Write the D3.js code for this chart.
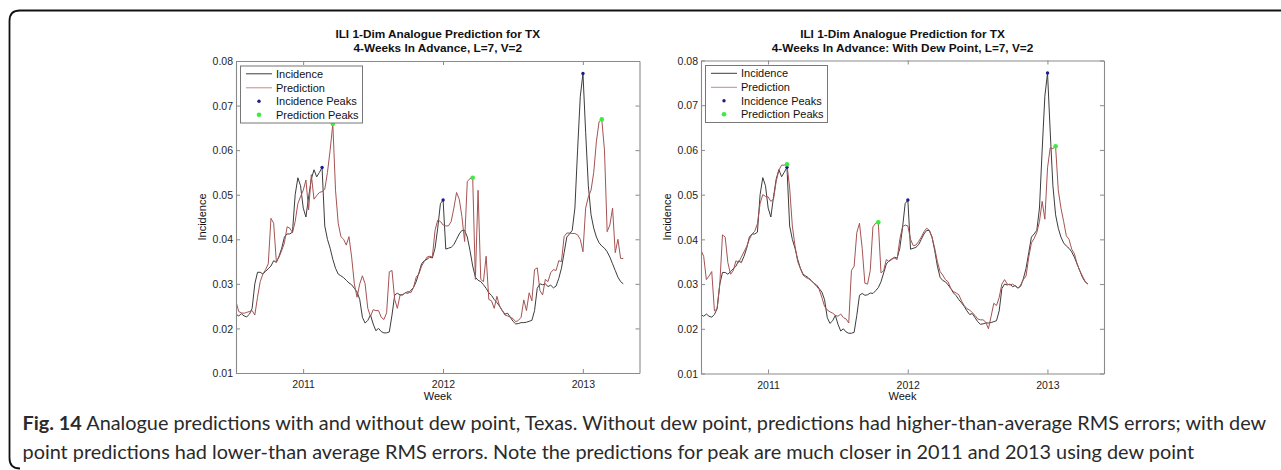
<!DOCTYPE html>
<html><head><meta charset="utf-8">
<script src="https://cdn.jsdelivr.net/npm/d3@7"></script>
<style>
html,body{margin:0;padding:0;background:#fff;}
svg{display:block;}
</style></head>
<body>
<svg id="chart" width="1281" height="470"></svg>
<script>
// ---------------- DATA ----------------
const startYear = 2010.52;          // decimal year of first weekly observation
const weeksPerYear = 52;
const xDomain = [2010.52, 2013.405];
const yDomain = [0.01, 0.08];
const xTicks = [2011, 2012, 2013];
const xTickLabels = ["2011", "2012", "2013"];
const yTicks = [0.01, 0.02, 0.03, 0.04, 0.05, 0.06, 0.07, 0.08];
const yTickLabels = ["0.01", "0.02", "0.03", "0.04", "0.05", "0.06", "0.07", "0.08"];

const incidence = [
 0.0232,0.0228,0.0233,0.0228,0.0226,0.0232,0.0245,0.0300,0.0326,0.0326,
 0.0322,0.0328,0.0334,0.0340,0.0352,0.0348,0.0362,0.0380,0.0405,0.0412,
 0.0412,0.0416,0.0500,0.0538,0.0520,0.0470,0.0450,0.0495,0.0535,0.0556,
 0.0540,0.0550,0.0561,0.0430,0.0400,0.0380,0.0355,0.0335,0.0322,0.0318,
 0.0314,0.0308,0.0302,0.0298,0.0290,0.0282,0.0265,0.0225,0.0212,0.0218,
 0.0230,0.0210,0.0195,0.0200,0.0193,0.0190,0.0190,0.0192,0.0230,0.0275,
 0.0279,0.0275,0.0276,0.0280,0.0279,0.0285,0.0292,0.0305,0.0325,0.0345,
 0.0352,0.0355,0.0360,0.0358,0.0380,0.0425,0.0480,0.0488,0.0378,0.0380,
 0.0382,0.0388,0.0400,0.0412,0.0420,0.0420,0.0405,0.0375,0.0340,0.0315,
 0.0308,0.0305,0.0298,0.0290,0.0280,0.0274,0.0265,0.0258,0.0250,0.0240,
 0.0232,0.0234,0.0225,0.0216,0.0210,0.0211,0.0213,0.0213,0.0214,0.0216,
 0.0218,0.0240,0.0290,0.0300,0.0298,0.0300,0.0294,0.0297,0.0291,0.0295,
 0.0312,0.0335,0.0370,0.0405,0.0412,0.0420,0.0470,0.0600,0.0720,0.0772,
 0.0640,0.0520,0.0455,0.0425,0.0405,0.0392,0.0385,0.0380,0.0372,0.0360,
 0.0345,0.0330,0.0315,0.0305,0.0300
];

const predictionNoDew = [
 0.0260,0.0238,0.0235,0.0234,0.0236,0.0238,0.0240,0.0230,0.0270,0.0305,
 0.0322,0.0332,0.0345,0.0447,0.0436,0.0350,0.0360,0.0375,0.0392,0.0428,
 0.0425,0.0415,0.0440,0.0480,0.0496,0.0510,0.0533,0.0466,0.0545,0.0490,
 0.0498,0.0505,0.0507,0.0512,0.0550,0.0600,0.0659,0.0510,0.0436,0.0406,
 0.0400,0.0387,0.0406,0.0360,0.0300,0.0270,0.0300,0.0318,0.0300,0.0245,
 0.0227,0.0242,0.0240,0.0240,0.0225,0.0220,0.0235,0.0327,0.0330,0.0265,
 0.0245,0.0275,0.0275,0.0280,0.0283,0.0280,0.0292,0.0315,0.0322,0.0340,
 0.0350,0.0360,0.0362,0.0360,0.0420,0.0443,0.0440,0.0432,0.0430,0.0430,
 0.0440,0.0470,0.0505,0.0490,0.0451,0.0395,0.0530,0.0536,0.0538,0.0310,
 0.0510,0.0310,0.0305,0.0362,0.0265,0.0262,0.0245,0.0272,0.0250,0.0240,
 0.0230,0.0228,0.0225,0.0222,0.0215,0.0218,0.0225,0.0264,0.0240,0.0280,
 0.0262,0.0332,0.0336,0.0285,0.0275,0.0310,0.0305,0.0325,0.0332,0.0330,
 0.0352,0.0350,0.0406,0.0414,0.0414,0.0413,0.0413,0.0410,0.0400,0.0372,
 0.0470,0.0495,0.0510,0.0550,0.0620,0.0664,0.0669,0.0600,0.0417,0.0432,
 0.0470,0.0370,0.0400,0.0357,0.0357
];

const predictionDew = [
 0.0376,0.0362,0.0310,0.0318,0.0328,0.0240,0.0245,0.0300,0.0410,0.0405,
 0.0348,0.0322,0.0330,0.0352,0.0348,0.0360,0.0372,0.0384,0.0400,0.0412,
 0.0418,0.0435,0.0480,0.0500,0.0496,0.0495,0.0485,0.0490,0.0530,0.0555,
 0.0566,0.0566,0.0568,0.0515,0.0430,0.0385,0.0350,0.0335,0.0320,0.0315,
 0.0312,0.0308,0.0302,0.0295,0.0288,0.0270,0.0250,0.0242,0.0238,0.0235,
 0.0230,0.0228,0.0233,0.0225,0.0222,0.0213,0.0330,0.0340,0.0415,0.0436,
 0.0380,0.0302,0.0300,0.0330,0.0428,0.0436,0.0438,0.0325,0.0330,0.0355,
 0.0350,0.0357,0.0358,0.0355,0.0400,0.0428,0.0432,0.0430,0.0400,0.0386,
 0.0387,0.0395,0.0405,0.0417,0.0425,0.0420,0.0405,0.0380,0.0350,0.0328,
 0.0320,0.0310,0.0305,0.0290,0.0283,0.0280,0.0276,0.0262,0.0252,0.0245,
 0.0242,0.0236,0.0230,0.0222,0.0220,0.0220,0.0215,0.0200,0.0228,0.0257,
 0.0252,0.0270,0.0300,0.0310,0.0300,0.0298,0.0300,0.0295,0.0291,0.0298,
 0.0310,0.0318,0.0360,0.0392,0.0402,0.0415,0.0440,0.0485,0.0445,0.0560,
 0.0605,0.0603,0.0608,0.0510,0.0470,0.0440,0.0408,0.0400,0.0378,0.0368,
 0.0345,0.0330,0.0318,0.0306,0.0300
];

const incidencePeakWeeks = [32, 77, 129];
const predictionPeakWeeksNoDew = [36, 88, 136];
const predictionPeakWeeksDew = [32, 66, 132];

const legendLabels = ["Incidence", "Prediction", "Incidence Peaks", "Prediction Peaks"];
const titlesNoDew = ["ILI 1-Dim Analogue Prediction for TX", "4-Weeks In Advance, L=7, V=2"];
const titlesDew = ["ILI 1-Dim Analogue Prediction for TX", "4-Weeks In Advance: With Dew Point, L=7, V=2"];
const xLabel = "Week";
const yLabel = "Incidence";
const captionBold = "Fig. 14";
const captionLine1 = " Analogue predictions with and without dew point, Texas. Without dew point, predictions had higher-than-average RMS errors; with dew";
const captionLine2 = "point predictions had lower-than average RMS errors. Note the predictions for peak are much closer in 2011 and 2013 using dew point";

// ---------------- STYLE ----------------
const COL_INC = "#3c3c3c";
const COL_PRED = "#a55353";
const COL_INC_PEAK = "#1c1c8c";
const COL_PRED_PEAK = "#3cec3c";
const COL_AXIS = "#8a8a8a";
const FONT = "'Liberation Sans', Arial, sans-serif";

const svg = d3.select("#chart");

// figure frame (top rule + rounded left border)
svg.append("path")
  .attr("d", "M20,468.5 Q9.5,468.5 9.5,458 L9.5,21 Q9.5,10.5 20,10.5 L1281,10.5")
  .attr("fill", "none").attr("stroke", "#111").attr("stroke-width", 1.8);

const weekX = incidence.map((_, i) => startYear + i / weeksPerYear);

const panels = [
  { left: 236, right: 639.5, top: 61, bottom: 373, pred: predictionNoDew, predPeaks: predictionPeakWeeksNoDew, titles: titlesNoDew },
  { left: 701, right: 1104, top: 60.5, bottom: 373.5, pred: predictionDew, predPeaks: predictionPeakWeeksDew, titles: titlesDew }
];

panels.forEach(p => {
  const x = d3.scaleLinear().domain(xDomain).range([p.left, p.right]);
  const y = d3.scaleLinear().domain(yDomain).range([p.bottom, p.top]);
  const g = svg.append("g");

  const cid = "clip" + p.left;
  svg.append("clipPath").attr("id", cid).append("rect")
    .attr("x", p.left).attr("y", p.top).attr("width", p.right - p.left).attr("height", p.bottom - p.top);

  const line = d3.line().x((d, i) => x(weekX[i])).y(d => y(d));
  const plot = g.append("g").attr("clip-path", `url(#${cid})`);
  plot.append("path").datum(incidence).attr("d", line)
    .attr("fill", "none").attr("stroke", COL_INC).attr("stroke-width", 1).attr("stroke-linejoin", "round");
  plot.append("path").datum(p.pred).attr("d", line)
    .attr("fill", "none").attr("stroke", COL_PRED).attr("stroke-width", 1).attr("stroke-linejoin", "round");

  const axB = d3.axisBottom(x).tickValues(xTicks).tickFormat((d, i) => xTickLabels[i]).tickSizeInner(-4).tickSizeOuter(0).tickPadding(8);
  const axT = d3.axisTop(x).tickValues(xTicks).tickFormat("").tickSizeInner(-4).tickSizeOuter(0);
  const axL = d3.axisLeft(y).tickValues(yTicks).tickFormat((d, i) => yTickLabels[i]).tickSizeInner(-4).tickSizeOuter(0).tickPadding(3);
  const axR = d3.axisRight(y).tickValues(yTicks).tickFormat("").tickSizeInner(-4).tickSizeOuter(0);

  const gB = g.append("g").attr("transform", `translate(0,${p.bottom})`).call(axB);
  const gT = g.append("g").attr("transform", `translate(0,${p.top})`).call(axT);
  const gL = g.append("g").attr("transform", `translate(${p.left},0)`).call(axL);
  const gR = g.append("g").attr("transform", `translate(${p.right},0)`).call(axR);
  [gB, gT, gL, gR].forEach(a => {
    a.select(".domain").attr("stroke", COL_AXIS).attr("stroke-width", 1.1);
    a.selectAll(".tick line").attr("stroke", COL_AXIS).attr("stroke-width", 1);
    a.selectAll("text").attr("fill", "#1e1e1e").style("font-family", FONT).style("font-size", "10.5px");
  });
  gL.selectAll(".tick text").attr("dy", "0.35em");

  plot.selectAll(".ipk").data(incidencePeakWeeks).join("circle")
    .attr("cx", d => x(weekX[d])).attr("cy", d => y(incidence[d])).attr("r", 1.7).attr("fill", COL_INC_PEAK);
  plot.selectAll(".ppk").data(p.predPeaks).join("circle")
    .attr("cx", d => x(weekX[d])).attr("cy", d => y(p.pred[d])).attr("r", 2.3).attr("fill", COL_PRED_PEAK);

  const cx = (p.left + p.right) / 2;
  p.titles.forEach((t, k) => {
    g.append("text").attr("x", cx).attr("y", 37.5 + k * 14.3).attr("text-anchor", "middle")
      .style("font-family", FONT).style("font-size", "11.8px").style("font-weight", "bold").attr("fill", "#111").text(t);
  });
  g.append("text").attr("x", cx).attr("y", 399.5).attr("text-anchor", "middle")
    .style("font-family", FONT).style("font-size", "11px").attr("fill", "#111").text(xLabel);
  g.append("text").attr("transform", `translate(${p.left - 30},${(p.top + p.bottom) / 2}) rotate(-90)`)
    .attr("text-anchor", "middle").style("font-family", FONT).style("font-size", "11px").attr("fill", "#111").text(yLabel);

  const lx = p.left + 4, ly = p.top + 4.5, lw = 122, lh = 57;
  const lg = g.append("g");
  lg.append("rect").attr("x", lx + 0.5).attr("y", ly + 0.5).attr("width", lw).attr("height", lh)
    .attr("fill", "#fff").attr("stroke", "#777").attr("stroke-width", 1);
  const rows = [8.3, 22.3, 35.7, 49.3];
  legendLabels.forEach((lab, k) => {
    const ry = ly + rows[k];
    if (k < 2) {
      lg.append("line").attr("x1", lx + 6).attr("x2", lx + 32).attr("y1", ry).attr("y2", ry)
        .attr("stroke", k === 0 ? COL_INC : "#c48a8a").attr("stroke-width", 1);
    } else {
      lg.append("circle").attr("cx", lx + 19).attr("cy", ry).attr("r", k === 2 ? 1.7 : 2.3)
        .attr("fill", k === 2 ? COL_INC_PEAK : COL_PRED_PEAK);
    }
    lg.append("text").attr("x", lx + 36).attr("y", ry).attr("dy", "0.36em")
      .style("font-family", FONT).style("font-size", "11px").attr("fill", "#111").text(lab);
  });
});

// caption
const capFont = "Lato, 'Open Sans', sans-serif";
const c1 = svg.append("text").attr("x", 22.5).attr("y", 430).style("font-family", capFont).style("font-size", "18px").attr("fill", "#2a2a2a");
c1.append("tspan").style("font-weight", "bold").text(captionBold);
c1.append("tspan").text(captionLine1);
const c2 = svg.append("text").attr("x", 22.5).attr("y", 458.5).style("font-family", capFont).style("font-size", "18px").attr("fill", "#2a2a2a").text(captionLine2);
const w1 = c1.node().getComputedTextLength();
const fs = 18 * 1244 / w1;
c1.style("font-size", fs + "px");
c2.style("font-size", fs + "px");
</script>
</body></html>
